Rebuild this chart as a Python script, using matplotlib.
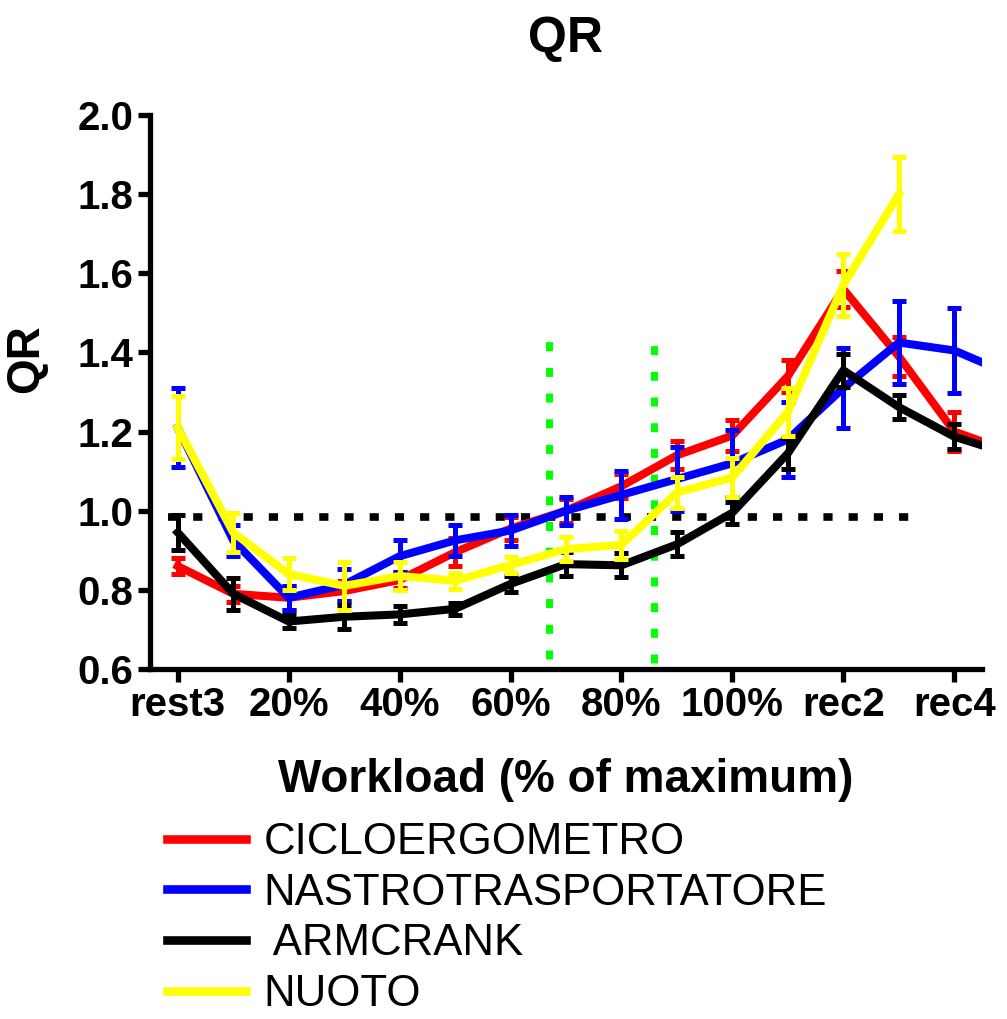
import numpy as np
import matplotlib
matplotlib.use("Agg")
import matplotlib.pyplot as plt
from matplotlib.lines import Line2D

plt.rcParams['font.family'] = ['Liberation Sans', 'DejaVu Sans']

# Workload stages (one point per stage)
stages = ['rest3', '10%', '20%', '30%', '40%', '50%', '60%', '70%', '80%',
          '90%', '100%', 'rec1', 'rec2', 'rec3', 'rec4', 'rec5']
tick_labels = ['rest3', '20%', '40%', '60%', '80%', '100%', 'rec2', 'rec4']

# Mean QR and SEM per protocol
ciclo_mean = [0.86, 0.79, 0.78, 0.797, 0.825, 0.895, 0.955, 1.00, 1.062, 1.14,
              1.19, 1.34, 1.56, 1.39, 1.20, 1.15]
ciclo_sem = [0.02, 0.02, 0.03, 0.025, 0.02, 0.035, 0.03, 0.03, 0.03, 0.035,
             0.038, 0.04, 0.045, 0.05, 0.05, 0.05]

nastro_mean = [1.21, 0.925, 0.78, 0.813, 0.885, 0.925, 0.95, 1.00, 1.04, 1.08,
               1.12, 1.18, 1.31, 1.425, 1.405, 1.345]
nastro_sem = [0.10, 0.04, 0.03, 0.04, 0.04, 0.04, 0.04, 0.035, 0.06, 0.08,
              0.085, 0.095, 0.10, 0.105, 0.108, 0.10]

arm_mean = [0.945, 0.79, 0.72, 0.732, 0.738, 0.752, 0.815, 0.865, 0.862, 0.915,
            0.995, 1.145, 1.355, 1.262, 1.187, 1.143]
arm_sem = [0.045, 0.04, 0.016, 0.03, 0.022, 0.015, 0.02, 0.03, 0.03, 0.03,
           0.028, 0.04, 0.042, 0.03, 0.032, 0.03]

nuoto_mean = [1.21, 0.945, 0.84, 0.81, 0.835, 0.823, 0.863, 0.903, 0.914, 1.046,
              1.084, 1.25, 1.57, 1.80, np.nan, np.nan]
nuoto_sem = [0.08, 0.05, 0.04, 0.06, 0.035, 0.02, 0.02, 0.03, 0.035, 0.04,
             0.05, 0.06, 0.078, 0.093, np.nan, np.nan]

series_names = ['CICLOERGOMETRO', 'NASTROTRASPORTATORE', ' ARMCRANK', 'NUOTO']
series_colors = ['#ff0000', '#0000ff', '#000000', '#ffff00']

# Reference lines: RQ = 1 level and threshold band limits
rq_level = 0.985
rq_span = (-0.17, 13.42)
thresholds = [(6.69, 0.625, 1.443), (8.58, 0.615, 1.435)]

fig = plt.figure(figsize=(10.07, 10.19), dpi=100)
ax = fig.add_axes([150 / 1007, 1 - 669 / 1019, 832 / 1007, 554 / 1019])

x = np.arange(len(stages))

ax.hlines(rq_level, rq_span[0], rq_span[1], colors='black', lw=5.5,
          linestyles=(0, (1.2, 2.1)), zorder=1)
for xv, y0, y1 in thresholds:
    ax.vlines(xv, y0, y1, colors='#00ff00', lw=5.0,
              linestyles=(0, (1.3, 2.4)), zorder=1)

all_means = [ciclo_mean, nastro_mean, arm_mean, nuoto_mean]
all_sems = [ciclo_sem, nastro_sem, arm_sem, nuoto_sem]
for i, (m, s, c) in enumerate(zip(all_means, all_sems, series_colors)):
    ax.errorbar(x, m, yerr=s, color=c, lw=5.8, elinewidth=3.6, capsize=5,
                capthick=3.6, zorder=3 + i)

ax.set_xlim(-0.5, 14.5)
ax.set_ylim(0.6, 2.0)
ax.set_xticks(x[::2][:len(tick_labels)])
ax.set_xticklabels(tick_labels)
ax.set_yticks(np.arange(0.6, 2.01, 0.2))
ax.set_yticklabels([f'{v:.1f}' for v in np.arange(0.6, 2.01, 0.2)])

for side in ('top', 'right'):
    ax.spines[side].set_visible(False)
for side in ('left', 'bottom'):
    ax.spines[side].set_linewidth(3.8)
ax.tick_params(width=3.8, length=9, labelsize=29, pad=3)
for lab in ax.get_xticklabels() + ax.get_yticklabels():
    lab.set_fontweight('bold')

ax.set_title('QR', fontsize=36, fontweight='bold', pad=45)
ax.set_ylabel('QR', fontsize=33, fontweight='bold')
ax.yaxis.set_label_coords(-0.122, 0.56)
ax.set_xlabel('Workload (% of maximum)', fontsize=33, fontweight='bold')
ax.xaxis.set_label_coords(0.5, -0.16)

handles = [Line2D([], [], color=c, lw=6.2) for c in series_colors]
fig.legend(handles, series_names, loc='upper left',
           bbox_to_anchor=(167 / 1007, 1 - 822 / 1019), frameon=False,
           fontsize=31.5, handlelength=1.8, handletextpad=0.4,
           labelspacing=0.22, borderaxespad=0, borderpad=0)

fig.savefig('out.png', dpi=100)
